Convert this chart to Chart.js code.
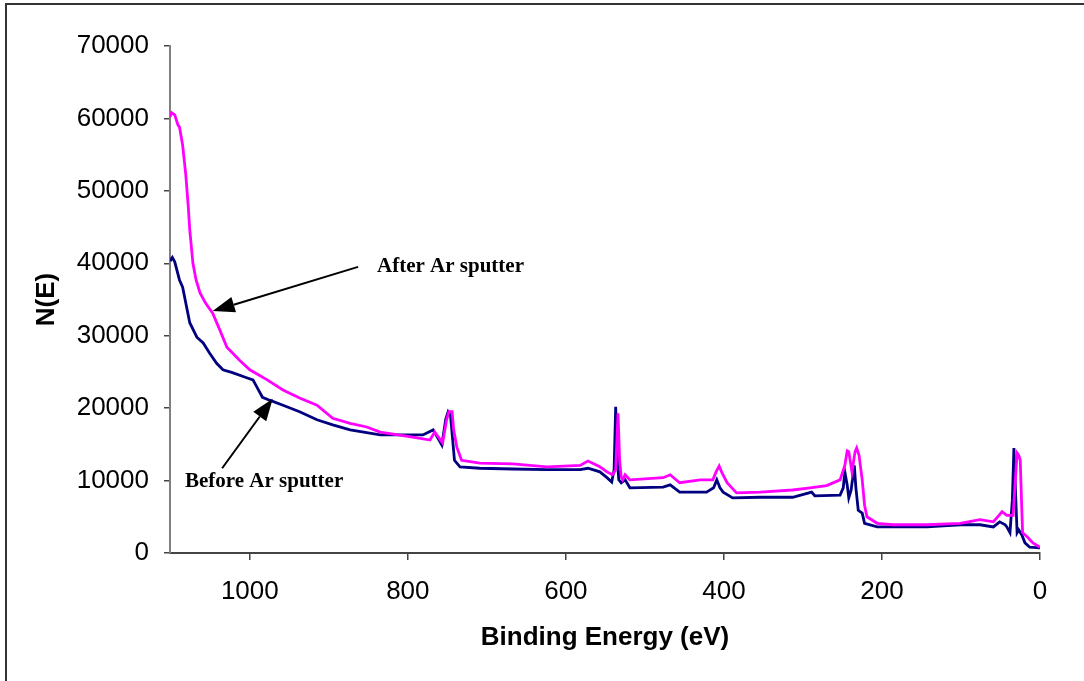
<!DOCTYPE html>
<html lang="en">
<head>
  <meta charset="UTF-8">
  <title>XPS survey - before / after Ar sputter</title>
  <style>
    body {
      margin: 0;
      background: white;
      overflow: hidden;
    }
    #frame {
      position: absolute;
      left: 5px;
      top: 3px;
      width: 1100px;
      height: 700px;
      border: 2px solid #333;
    }
    #chart {
      position: absolute;
      left: 0;
      top: 0;
    }
  </style>
</head>
<body>
  <div id="frame"></div>
  <canvas id="chart" width="1084" height="681"></canvas>

  <script src="https://cdn.jsdelivr.net/npm/chart.js"></script>
  <script>
    // binding energy (eV) and counts
    const beBefore = [1101, 1098, 1095, 1089, 1085, 1076, 1067, 1059, 1051, 1042, 1034, 1022, 1004, 996, 991, 984, 975, 958, 937, 915, 895, 873, 835, 794, 781, 768, 757, 752, 749, 746, 741, 734, 709, 667, 624, 582, 572, 557, 548, 542, 539, 537, 534, 533, 530, 525, 519, 477, 468, 456, 422, 413, 409, 405, 401, 389, 354, 313, 289, 285, 253, 249, 247, 244, 242, 239, 235, 233, 230, 225, 222, 206, 143, 101, 76, 59, 51, 44, 42, 38, 35, 33, 32, 29, 27, 23, 19, 13, 0];
    const nBefore = [40300, 40800, 40200, 37700, 36700, 31800, 29800, 29000, 27600, 26200, 25300, 24900, 24200, 23900, 22900, 21500, 21100, 20400, 19500, 18400, 17700, 17000, 16300, 16300, 16300, 17000, 14900, 18500, 19500, 19000, 12800, 11900, 11700, 11600, 11500, 11500, 11700, 11200, 10400, 9800, 11500, 20200, 11500, 10100, 9700, 10100, 9000, 9100, 9400, 8400, 8400, 9000, 10100, 9000, 8400, 7600, 7700, 7700, 8400, 7900, 8000, 9000, 11200, 9400, 7600, 8700, 12100, 9000, 5900, 5500, 4100, 3600, 3600, 3900, 3900, 3600, 4300, 3900, 3600, 2800, 7300, 14500, 11500, 2800, 3200, 2500, 1400, 800, 700];

    const beAfter = [1101, 1099, 1095, 1091, 1089, 1085, 1081, 1078, 1076, 1072, 1068, 1063, 1056, 1047, 1038, 1029, 1013, 1000, 978, 958, 937, 915, 895, 873, 852, 835, 794, 772, 766, 756, 751, 748, 744, 742, 738, 732, 709, 667, 624, 582, 572, 557, 548, 541, 537, 534, 532, 530, 528, 525, 519, 477, 468, 456, 430, 414, 410, 406, 403, 396, 384, 354, 313, 291, 270, 253, 247, 244, 242, 238, 234, 232, 229, 225, 222, 219, 206, 186, 143, 101, 76, 59, 48, 42, 34, 32, 29, 27, 25, 23, 22, 16, 9, 0];
    const nAfter = [60200, 60800, 60500, 59100, 58800, 56300, 52200, 48000, 44600, 40000, 37700, 35900, 34500, 33100, 30800, 28400, 26600, 25300, 23900, 22500, 21400, 20400, 18600, 17900, 17400, 16700, 16000, 15600, 16700, 15200, 18400, 19500, 19500, 17000, 14600, 12800, 12400, 12300, 11900, 12100, 12700, 11900, 11200, 10800, 11500, 19300, 12800, 10500, 10100, 10800, 10100, 10400, 10800, 9700, 10100, 10100, 11200, 12000, 11200, 9700, 8300, 8400, 8700, 9000, 9300, 10100, 12100, 14100, 14000, 11200, 14000, 14500, 13500, 10100, 6600, 5000, 4100, 3900, 3900, 4100, 4600, 4300, 5700, 5200, 5200, 8700, 13800, 13500, 12800, 5900, 2800, 2200, 1400, 800];

    const xTicks = [0, 200, 400, 600, 800, 1000];
    const yTicks = [0, 10000, 20000, 30000, 40000, 50000, 60000, 70000];

    // labels with arrows: text anchor, arrow tail and arrow tip in data units
    const notes = [
      { text: 'After Ar sputter', at: [839, 38800], from: [863, 39500], to: [1047, 33400] },
      { text: 'Before Ar sputter', at: [1082, 9100], from: [1035, 11700], to: [971, 21300] }
    ];

    const arrowPlugin = {
      id: 'arrows',
      afterDraw(chart) {
        const ctx = chart.ctx;
        const xs = chart.scales.x, ys = chart.scales.y;
        ctx.save();
        notes.forEach(n => {
          const x1 = xs.getPixelForValue(n.from[0]), y1 = ys.getPixelForValue(n.from[1]);
          const x2 = xs.getPixelForValue(n.to[0]), y2 = ys.getPixelForValue(n.to[1]);
          const ang = Math.atan2(y2 - y1, x2 - x1);
          const hl = 22, hw = 8;
          const bx = x2 - hl * Math.cos(ang), by = y2 - hl * Math.sin(ang);
          ctx.strokeStyle = '#000';
          ctx.fillStyle = '#000';
          ctx.lineWidth = 2;
          ctx.beginPath();
          ctx.moveTo(x1, y1);
          ctx.lineTo(bx, by);
          ctx.stroke();
          ctx.beginPath();
          ctx.moveTo(x2, y2);
          ctx.lineTo(bx + hw * Math.sin(ang), by - hw * Math.cos(ang));
          ctx.lineTo(bx - hw * Math.sin(ang), by + hw * Math.cos(ang));
          ctx.closePath();
          ctx.fill();

          ctx.font = 'bold 21px "Liberation Serif", "Times New Roman", serif';
          ctx.textAlign = 'left';
          ctx.textBaseline = 'alphabetic';
          ctx.fillText(n.text, xs.getPixelForValue(n.at[0]), ys.getPixelForValue(n.at[1]));
        });
        ctx.restore();
      }
    };

    const font = { family: 'Arial, "Liberation Sans", sans-serif', size: 26 };

    new Chart(document.getElementById('chart').getContext('2d'), {
      type: 'line',
      data: {
        datasets: [
          {
            label: 'After Ar sputter',
            data: beAfter.map((e, i) => ({ x: e, y: nAfter[i] })),
            borderColor: '#FF00FF',
            borderWidth: 2.8,
            pointRadius: 0,
            tension: 0,
            fill: false
          },
          {
            label: 'Before Ar sputter',
            data: beBefore.map((e, i) => ({ x: e, y: nBefore[i] })),
            borderColor: '#000080',
            borderWidth: 2.8,
            pointRadius: 0,
            tension: 0,
            fill: false
          }
        ]
      },
      options: {
        responsive: false,
        animation: false,
        layout: { padding: { top: 46, right: 44, left: 0, bottom: 0 } },
        plugins: {
          legend: { display: false },
          tooltip: { enabled: false }
        },
        scales: {
          x: {
            type: 'linear',
            reverse: true,
            min: 0,
            max: 1101,
            afterBuildTicks: (s) => { s.ticks = xTicks.map(v => ({ value: v })); },
            afterFit: (s) => { s.height = 128; },
            ticks: { color: '#000', font: font, padding: 16, maxRotation: 0, callback: (v) => String(v) },
            grid: { drawOnChartArea: false, drawTicks: true, tickLength: 7, color: '#444', lineWidth: 1.5 },
            border: { display: true, color: '#444', width: 2 },
            title: {
              display: true,
              text: 'Binding Energy (eV)',
              color: '#000',
              font: { family: font.family, size: 26, weight: 'bold' },
              padding: { top: 0, bottom: 28 }
            }
          },
          y: {
            min: 0,
            max: 70000,
            afterBuildTicks: (s) => { s.ticks = yTicks.map(v => ({ value: v })); },
            afterFit: (s) => { s.width = 170; },
            ticks: { color: '#000', font: font, padding: 15, callback: (v) => String(v) },
            grid: { drawOnChartArea: false, drawTicks: true, tickLength: 6, color: '#444', lineWidth: 1.5 },
            border: { display: true, color: '#808080', width: 2 },
            title: {
              display: true,
              text: 'N(E)',
              color: '#000',
              font: { family: font.family, size: 26, weight: 'bold' },
              padding: { top: 31, bottom: 0 }
            }
          }
        }
      },
      plugins: [arrowPlugin]
    });
  </script>
</body>
</html>
